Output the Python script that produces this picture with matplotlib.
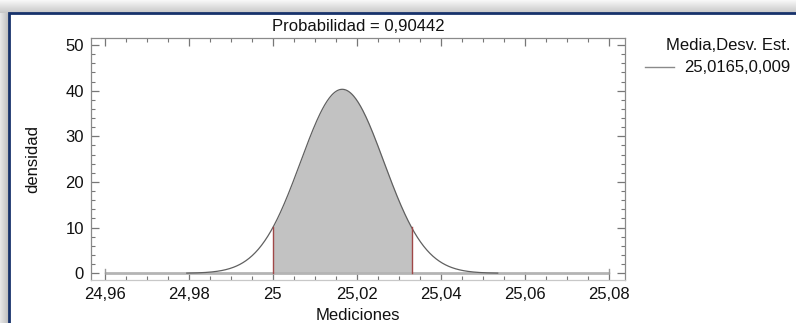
import numpy as np
import matplotlib
matplotlib.use('Agg')
from matplotlib import pyplot as plt
from matplotlib.lines import Line2D
from matplotlib.patches import Rectangle
from matplotlib.ticker import MultipleLocator, FuncFormatter

plt.rcParams['font.family'] = ['Liberation Sans', 'DejaVu Sans']

# data
media = 25.0165
desv = 0.0099
limites = [25.0, 25.033]          # shaded interval
rango_curva = [24.9795, 25.0535]  # where the dark curve is drawn
rango_eje = [24.96, 25.08]        # x axis extent
x_ticks = [24.96, 24.98, 25.0, 25.02, 25.04, 25.06, 25.08]
y_ticks = [0, 10, 20, 30, 40, 50]
probabilidad = '0,90442'
leyenda_titulo = 'Media,Desv. Est.'
leyenda = '25,0165,0,009'

def densidad(x):
    return np.exp(-0.5 * ((x - media) / desv) ** 2) / (desv * np.sqrt(2 * np.pi))

W, H = 796, 323
fs = 12
fig = plt.figure(figsize=(W / 100, H / 100), dpi=100)

# window frame with shadow
bg = fig.add_axes([0, 0, 1, 1], zorder=-5)
img = np.ones((H, W))
yy = np.arange(H)[:, None]
xx = np.arange(W)[None, :]
top = (yy < 13) & np.ones_like(xx, bool)
img = np.where(top, 0.97 - 0.2 * (yy / 13.0), img)
left = (xx < 9) & (yy >= 13)
img = np.where(left, 0.9 - 0.18 * (xx / 9.0), img)
bg.imshow(np.dstack([img] * 3), extent=[0, W, H, 0], aspect='auto')
bg.add_patch(Rectangle((9, 13), W, H, fill=True, facecolor='white',
                       edgecolor='#17326b', linewidth=2))
bg.set_xlim(0, W)
bg.set_ylim(H, 0)
bg.axis('off')

ax = fig.add_axes([91 / W, 1 - 280 / H, (625 - 91) / W, (280 - 38) / H])
ax.set_xlim(24.9567, 25.0838)
ax.set_ylim(-1.47, 51.53)

# baseline and curve
ax.plot(rango_eje, [0, 0], color='#b4b4b4', lw=2, solid_capstyle='butt', zorder=2)
ax.plot([rango_eje[0]] * 2, [0, 0.9], color='#9a9a9a', lw=1)
ax.plot([rango_eje[1]] * 2, [0, 0.9], color='#9a9a9a', lw=1)
xc = np.linspace(rango_curva[0], rango_curva[1], 400)
xf = np.linspace(limites[0], limites[1], 200)
ax.fill_between(xf, 0, densidad(xf), color='#c2c2c2', lw=0, zorder=1)
ax.plot(xc, densidad(xc), color='#606060', lw=0.9, zorder=3)
for xl in limites:
    ax.plot([xl, xl], [0, densidad(xl)], color='#a04848', lw=1.0, zorder=4)

# axes styling
ax.set_xticks(x_ticks)
ax.xaxis.set_minor_locator(MultipleLocator(0.005))
ax.xaxis.set_major_formatter(FuncFormatter(lambda v, p: ('%g' % round(v, 2)).replace('.', ',')))
ax.set_yticks(y_ticks)
ax.yaxis.set_minor_locator(MultipleLocator(2))
ax.tick_params(which='both', direction='in', top=True, right=True, color='#777777')
ax.tick_params(which='major', length=6, width=0.9, labelsize=fs, pad=5, labelcolor='#111111')
ax.tick_params(which='minor', length=3, width=0.8)
for s in ax.spines.values():
    s.set_color('#8a8a8a')
    s.set_linewidth(0.9)
ax.spines['bottom'].set_color('#c8c8c8')

ax.set_xlabel('Mediciones', fontsize=fs, labelpad=4, color='#111111')
ax.set_ylabel('densidad', fontsize=fs, labelpad=18, color='#111111')
ax.set_title('Probabilidad = ' + probabilidad, fontsize=fs, pad=5, color='#111111')

# legend (title over one entry, right aligned)
fig.text(790 / W, 1 - 46 / H, leyenda_titulo, fontsize=fs, ha='right', va='center',
         color='#111111')
fig.add_artist(Line2D([645 / W, 674 / W], [1 - 67 / H] * 2, color='#8a8a8a', lw=1))
fig.text(790 / W, 1 - 67 / H, leyenda, fontsize=fs, ha='right', va='center',
         color='#111111')

fig.savefig('out.png', dpi=100)
